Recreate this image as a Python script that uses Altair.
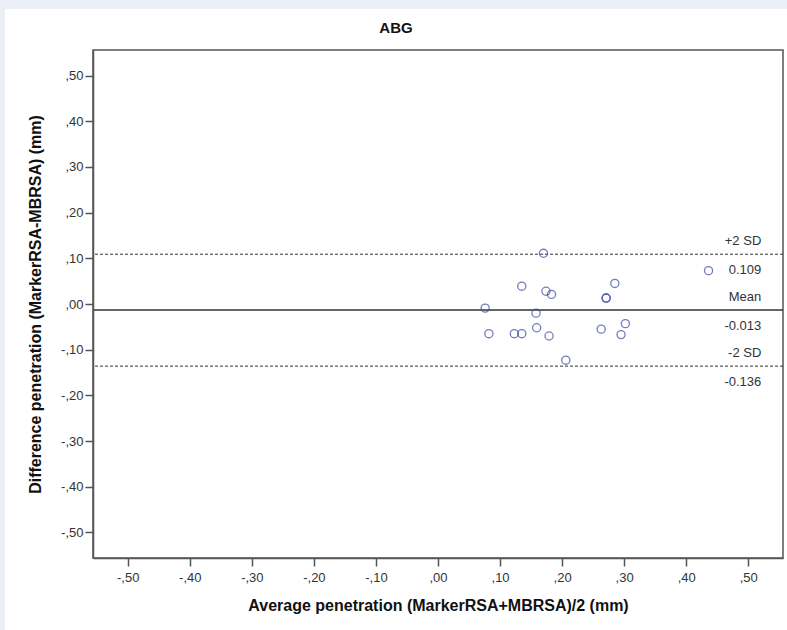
import altair as alt
import pandas as pd

# Bland-Altman data: mean of the two methods vs. their difference (mm)
avg_pen = [0.170, 0.135, 0.174, 0.183, 0.285, 0.271, 0.271, 0.076, 0.158,
           0.082, 0.123, 0.135, 0.159, 0.179, 0.263, 0.302, 0.295, 0.206, 0.436]
diff_pen = [0.111, 0.039, 0.028, 0.021, 0.045, 0.013, 0.013, -0.009, -0.020,
            -0.065, -0.065, -0.065, -0.052, -0.070, -0.055, -0.043, -0.067, -0.123, 0.073]

mean_diff = -0.013
upper_loa = 0.109
lower_loa = -0.136

tick_values = [-0.5, -0.4, -0.3, -0.2, -0.1, 0.0, 0.1, 0.2, 0.3, 0.4, 0.5]

ref_names = ["+2 SD", "0.109", "Mean", "-0.013", "-2 SD", "-0.136"]
ref_levels = [upper_loa, upper_loa, mean_diff, mean_diff, lower_loa, lower_loa]
ref_above = [True, False, True, False, True, False]

FONT = "Liberation Sans"
W, H = 690, 508
DOM = [-0.556, 0.556]

points = pd.DataFrame({"avg": avg_pen, "diff": diff_pen})
lines = pd.DataFrame({
    "level": [upper_loa, mean_diff, lower_loa],
    "kind": ["sd", "mean", "sd"],
})
ref_text = pd.DataFrame({"label": ref_names, "level": ref_levels, "above": ref_above})

label_expr = "(datum.value < -0.0001 ? '-' : '') + replace(format(abs(datum.value), '.2f'), '0.', ',')"

x_enc = alt.X(
    "avg:Q",
    scale=alt.Scale(domain=DOM, nice=False, zero=False),
    axis=alt.Axis(
        values=tick_values, labelExpr=label_expr,
        title="Average penetration (MarkerRSA+MBRSA)/2 (mm)",
        grid=False, tickSize=8, labelPadding=5, titlePadding=13, zindex=2,
    ),
)
y_enc = alt.Y(
    "diff:Q",
    scale=alt.Scale(domain=DOM, nice=False, zero=False),
    axis=alt.Axis(
        values=tick_values, labelExpr=label_expr,
        title="Difference penetration (MarkerRSA-MBRSA) (mm)",
        grid=False, tickSize=8, labelPadding=2, titlePadding=17, zindex=2,
    ),
)

one_row = pd.DataFrame({"a": [0]})

# white panel behind the figure
panel = alt.Chart(one_row).mark_rect(color="white").encode(
    x=alt.value(-88), x2=alt.value(W + 10), y=alt.value(-41), y2=alt.value(H + 80)
)

# frame around the plotting area
frame = alt.Chart(one_row).mark_rect(
    fill=None, fillOpacity=0, stroke="#555555", strokeWidth=1.5
).encode(x=alt.value(0), x2=alt.value(W), y=alt.value(0), y2=alt.value(H))

pts = alt.Chart(points).mark_point(
    shape="circle", filled=False, size=66, strokeWidth=1.3, color="#3b45a0"
).encode(x=x_enc, y=y_enc)

sd_lines = alt.Chart(lines[lines.kind == "sd"]).mark_rule(
    color="#333333", strokeWidth=1, strokeDash=[3, 2]
).encode(y="level:Q")

mean_line = alt.Chart(lines[lines.kind == "mean"]).mark_rule(
    color="#333333", strokeWidth=1.6
).encode(y="level:Q")

above_txt = alt.Chart(ref_text[ref_text.above]).mark_text(
    align="right", baseline="middle", dy=-13, fontSize=13, font=FONT, color="#333333"
).encode(x=alt.datum(0.521), y="level:Q", text="label:N")

below_txt = alt.Chart(ref_text[~ref_text.above]).mark_text(
    align="right", baseline="middle", dy=16, fontSize=13, font=FONT, color="#333333"
).encode(x=alt.datum(0.521), y="level:Q", text="label:N")

# the title sits inside the white panel, so it is pulled down into it
chart = alt.layer(panel, frame, sd_lines, mean_line, pts, above_txt, below_txt).properties(
    width=W, height=H,
    title=alt.TitleParams("ABG", fontSize=15, font=FONT, fontWeight="bold",
                          color="#111111", offset=-27, zindex=2, frame="group",
                          anchor="middle", dx=-42),
    autosize=alt.AutoSizeParams(type="none"),
    padding={"left": 93, "top": 50, "right": 4, "bottom": 72},
    background="#eceff5",
).configure_view(
    stroke=None
).configure_axis(
    labelFont=FONT, labelFontSize=13, labelColor="#333333",
    titleFont=FONT, titleFontSize=16, titleFontWeight="bold", titleColor="#111111",
    domainColor="#555555", domainWidth=1.5, tickColor="#555555", tickWidth=1.5,
)

chart.save("out.html", embed_options={"renderer": "svg", "actions": False})
